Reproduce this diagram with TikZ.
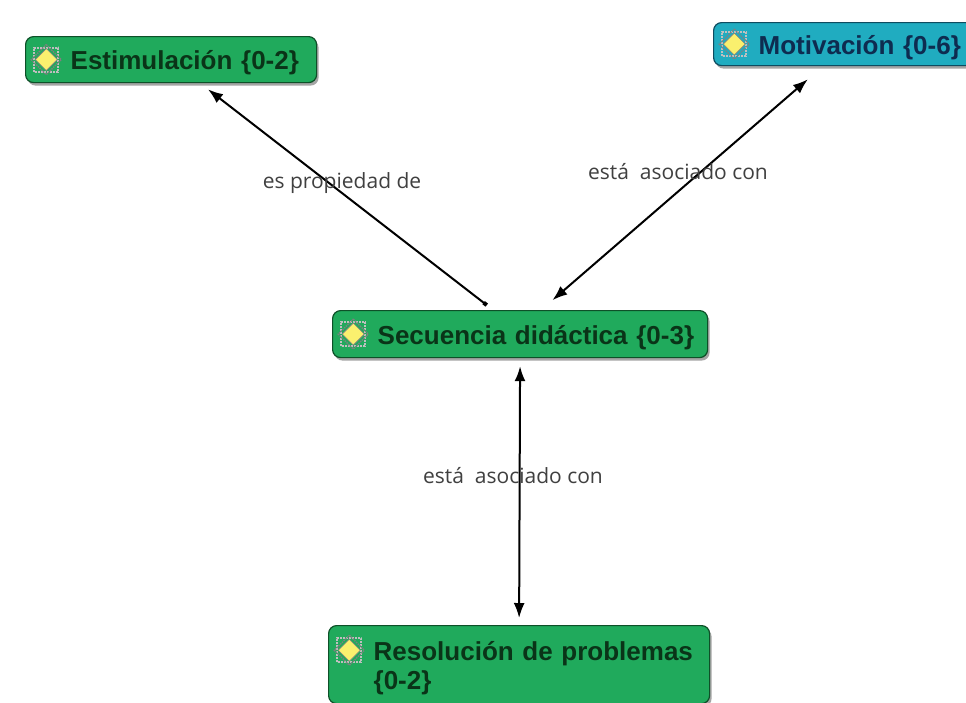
\documentclass[tikz,border=0pt]{standalone}
\usepackage{fontspec}
\setmainfont{Liberation Sans}
\newfontfamily\enlacefont{Open Sans}
\usepackage{xcolor}
\usepackage{tikz}
\usetikzlibrary{arrows.meta,positioning,calc,shadows}
\definecolor{verdeC}{RGB}{32,170,92}
\definecolor{verdeB}{RGB}{14,80,40}
\definecolor{verdeT}{RGB}{10,52,24}
\definecolor{azulC}{RGB}{32,172,192}
\definecolor{azulB}{RGB}{14,76,96}
\definecolor{azulT}{RGB}{14,44,80}
\definecolor{icoY}{RGB}{250,240,110}
\tikzset{
  concepto/.style={draw=verdeB, line width=1.2pt, rounded corners=8pt, fill=verdeC, text=verdeT,
    font=\fontsize{26}{29}\selectfont\bfseries, align=left, inner xsep=5pt, inner ysep=5pt,
    minimum height=46pt, anchor=north west,
    drop shadow={shadow xshift=2pt, shadow yshift=-3pt, fill=black!70}},
  conceptoazul/.style={concepto, fill=azulC, draw=azulB, text=azulT, minimum height=43pt},
  enlace/.style={font=\enlacefont\fontsize{21}{24}\selectfont, text=black!75},
  punta/.style={Latex[length=15pt,width=11pt]},
  flecha/.style={{Square[length=4pt,width=4pt]}-{Latex[length=15pt,width=11pt]}, line width=2pt},
  doble/.style={{Latex[length=15pt,width=11pt]}-{Latex[length=15pt,width=11pt]}, line width=2pt},
}
\newcommand{\icono}{\tikz[baseline=-10pt, sharp corners, x=1pt, y=1pt]{%
  \draw[white!75!black, densely dotted, line width=2pt] (-12,-12) rectangle (12,12);
  \draw[black!50, densely dotted, line width=1.4pt] (0,15)--(15,0)--(0,-15)--(-15,0)--cycle;
  \fill[draw=black!50, line width=0.6pt, fill=icoY] (0,11)--(11,0)--(0,-11)--(-11,0)--cycle;}}

\begin{document}
\begin{tikzpicture}[x=1pt, y=-1pt]
\useasboundingbox[fill=white] (0,0) rectangle (966,702);
\node[concepto, text width=281pt] (est) at (25,36) {\icono~Estimulación \{0-2\}};
\node[conceptoazul, text width=250pt] (mot) at (713,22) {\icono~Motivación \{0-6\}};
\node[concepto, text width=365pt, minimum height=47pt] (sec) at (332,310) {\icono~Secuencia didáctica \{0-3\}};
\node[concepto, text width=371pt, minimum height=78pt] (res) at (328,625)
  {\icono~Resolución de problemas\\\hphantom{\icono~}\{0-2\}};
% enlaces
\draw[flecha, shorten <=8pt, shorten >=10pt] ([xshift=-27pt]sec.north) -- ([xshift=29pt]est.south);
\draw[doble, shorten <=15pt, shorten >=20pt] ([xshift=21pt]sec.north) -- (mot.south -| 823,0);
\draw[doble, shorten <=8pt, shorten >=7pt] (sec.south) -- (res.north);
\node[enlace] (l1) at (342,183) {es propiedad de};
\node[enlace] (l2) at (678,172) {está~ asociado con};
\node[enlace] (l3) at (513,476) {está~ asociado con};
\end{tikzpicture}
\end{document}
